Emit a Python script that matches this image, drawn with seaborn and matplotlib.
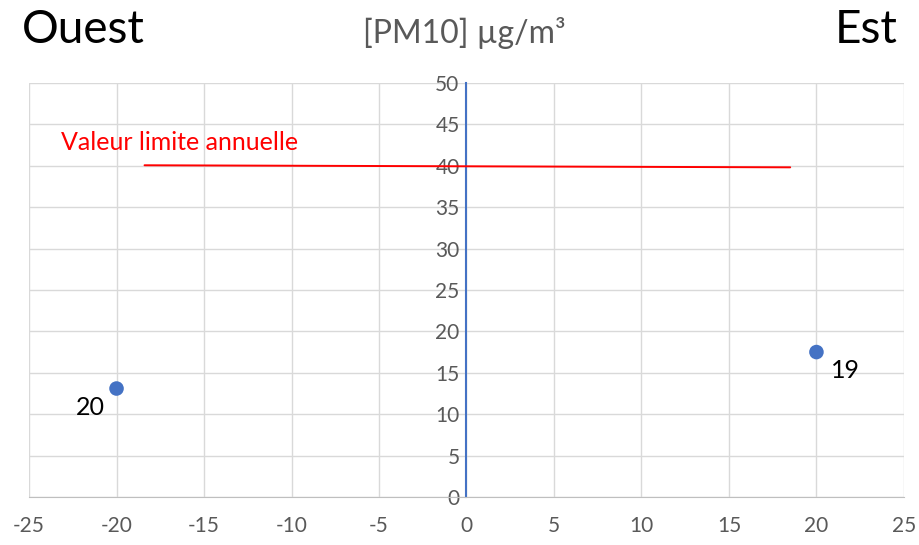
import pandas as pd
import matplotlib.pyplot as plt
import seaborn as sns

# Stations (position ouest/est) and annual PM10 means
station_x = [-20, 20]
station_pm10 = [13.1, 17.5]
station_labels = ['20', '19']

# Annual limit value line
limit_x = [-18.4, 18.5]
limit_y = [40.05, 39.8]

x_ticks = list(range(-25, 30, 5))
y_ticks = list(range(0, 55, 5))

sns.set_style('white')
plt.rcParams['font.family'] = ['Lato', 'DejaVu Sans']
plt.rcParams['axes.unicode_minus'] = False

fig = plt.figure(figsize=(9.19, 5.45), dpi=100)
ax = fig.add_axes([0.0316, 0.088, 0.952, 0.76])

pts = pd.DataFrame({'x': station_x, 'y': station_pm10, 'label': station_labels})
lim = pd.DataFrame({'x': limit_x, 'y': limit_y})

sns.lineplot(data=lim, x='x', y='y', color='#FF0000', linewidth=1.4, ax=ax, zorder=3)
sns.scatterplot(data=pts, x='x', y='y', color='#4472C4', s=110, edgecolor='none', ax=ax, zorder=4)

offsets = {'20': (-19, -14), '19': (21, -13)}
for _, r in pts.iterrows():
    ax.annotate(r['label'], (r['x'], r['y']), xytext=offsets[r['label']],
                textcoords='offset points', ha='center', va='center',
                fontsize=18, color='black')

ax.text(-23.2, 42.75, 'Valeur limite annuelle', color='#FF0000', fontsize=18,
        ha='left', va='center')

ax.set_xlim(-25, 25)
ax.set_ylim(0, 50)
ax.set_xticks(x_ticks)
ax.set_yticks(y_ticks)
ax.grid(True, color='#D9D9D9', linewidth=1)
ax.set_axisbelow(True)
ax.set_xlabel('')
ax.set_ylabel('')

ax.spines['left'].set_position(('data', 0))
ax.spines['left'].set_color('#4472C4')
ax.spines['left'].set_linewidth(1.5)
ax.spines['left'].set_zorder(2)
ax.spines['bottom'].set_color('#BFBFBF')
ax.spines['top'].set_visible(False)
ax.spines['right'].set_visible(False)
ax.tick_params(axis='both', length=0, labelsize=15, labelcolor='#595959')
ax.tick_params(axis='x', pad=14)
ax.tick_params(axis='y', pad=5)

fig.text(22 / 919, 1 - 30 / 545, 'Ouest', fontsize=33, ha='left', va='center', color='black')
fig.text(898 / 919, 1 - 30 / 545, 'Est', fontsize=33, ha='right', va='center', color='black')
fig.text(464 / 919, 1 - 33 / 545, '[PM10] µg/m³', fontsize=23, ha='center', va='center', color='#595959')

fig.savefig('out.png', dpi=100)
